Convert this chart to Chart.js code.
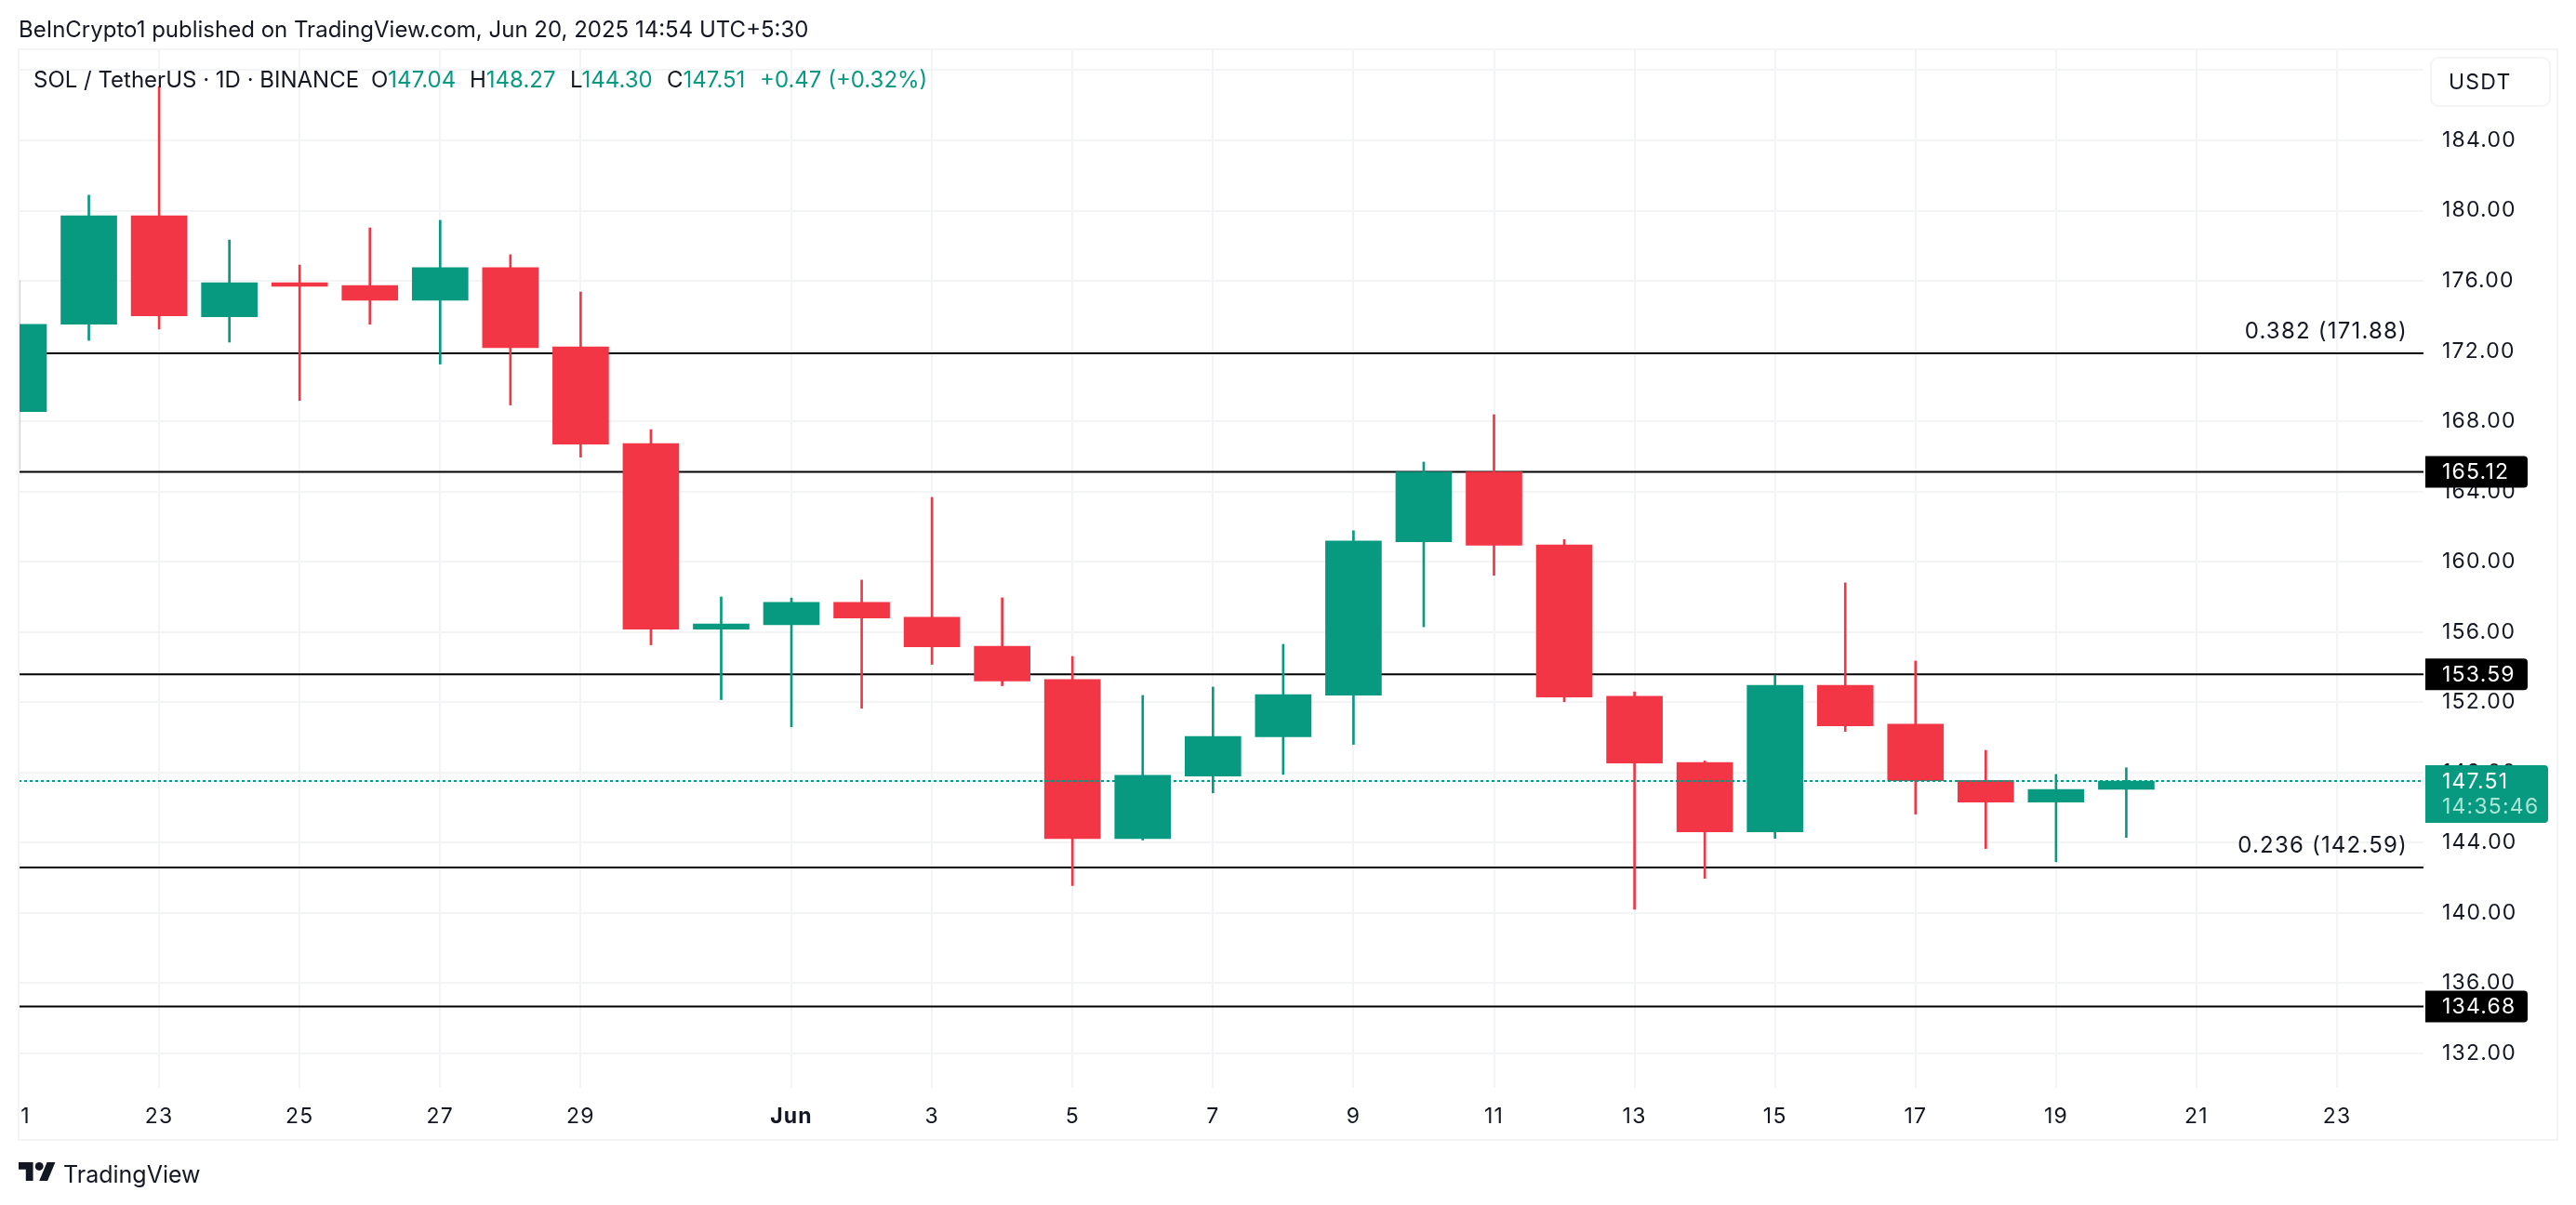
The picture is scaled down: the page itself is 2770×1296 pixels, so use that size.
<!DOCTYPE html>
<html>
<head>
<meta charset="utf-8">
<title>SOL / TetherUS</title>
<script src="https://cdn.jsdelivr.net/npm/chart.js@4"></script>
<style>
    body { margin: 0; background: #fff; font-family: Inter, sans-serif; color: #131722; }
    #wrap { position: relative; width: 2770px; height: 1296px; overflow: hidden; }
    canvas { position: absolute; left: 0; top: 0; }
    .txt { position: absolute; white-space: pre; line-height: 30px; font-size: 24px; }
    .up { color: #089981; }
</style>
</head>
<body>
<div id="wrap">
    <canvas id="chart" width="2770" height="1296"></canvas>
    <div class="txt" style="left:20px;top:17px;">BeInCrypto1 published on TradingView.com, Jun 20, 2025 14:54 UTC+5:30</div>
    <div class="txt" style="left:36px;top:71px;">SOL / TetherUS · 1D · BINANCE</div>
    <div class="txt" style="left:399px;top:71px;">O<span class="up">147.04</span></div>
    <div class="txt" style="left:505px;top:71px;">H<span class="up">148.27</span></div>
    <div class="txt" style="left:613px;top:71px;">L<span class="up">144.30</span></div>
    <div class="txt" style="left:717px;top:71px;">C<span class="up">147.51</span></div>
    <div class="txt up" style="left:817px;top:71px;">+0.47 (+0.32%)</div>
    <svg style="position:absolute;left:20px;top:1250px;" width="40" height="20" viewBox="0 7 36 18" preserveAspectRatio="none">
        <path fill="#131722" d="M14 25H7V14H0V7h14v18zM28 25h-8l7.5-18h8L28 25z"/>
        <circle fill="#131722" cx="20" cy="11" r="4"/>
    </svg>
    <div class="txt" style="left:68px;top:1248px;font-size:25px;">TradingView</div>
</div>
<script>
// one candle per day, May 21 to Jun 20
const days = ["May 21","May 22","May 23","May 24","May 25","May 26","May 27","May 28","May 29","May 30","May 31",
    "Jun 1","Jun 2","Jun 3","Jun 4","Jun 5","Jun 6","Jun 7","Jun 8","Jun 9","Jun 10",
    "Jun 11","Jun 12","Jun 13","Jun 14","Jun 15","Jun 16","Jun 17","Jun 18","Jun 19","Jun 20"];
const opens = [168.56,173.53,179.71,173.96,175.90,175.74,174.89,176.75,172.24,166.73,156.16,
    156.41,157.69,156.84,155.19,153.29,144.24,147.80,150.03,152.40,161.14,
    165.12,160.96,152.34,148.57,144.62,152.97,150.75,147.55,146.31,147.04];
const closes = [173.52,179.71,174.01,175.90,175.69,174.89,176.75,172.19,166.70,156.16,156.46,
    157.69,156.80,155.16,153.21,144.24,147.84,150.05,152.44,161.18,165.12,
    160.94,152.30,148.54,144.62,152.97,150.66,147.53,146.31,147.04,147.51];
const highs = [176.02,180.88,187.05,178.33,176.90,179.02,179.45,177.49,175.37,167.53,158.00,
    157.94,158.96,163.67,157.95,154.61,152.39,152.87,155.30,161.77,165.68,
    168.38,161.27,152.59,148.66,153.55,158.80,154.35,149.26,147.89,148.27];
const lows = [165.30,172.61,173.25,172.51,169.19,173.53,171.26,168.93,165.96,155.27,152.15,
    150.60,151.66,154.16,152.94,141.56,144.15,146.84,147.89,149.60,156.30,
    159.23,152.03,140.21,141.97,144.25,150.34,145.63,143.67,142.92,144.30];

const priceTicks = [132,136,140,144,148,152,156,160,164,168,172,176,180,184,188];
const dayTicks = [0.1,2,4,6,8,11,13,15,17,19,21,23,25,27,29,31,33];
const dayTickLabels = ["1","23","25","27","29","Jun","3","5","7","9","11","13","15","17","19","21","23"];

const fibLevels = [171.88,142.59];
const fibLabels = ["0.382 (171.88)","0.236 (142.59)"];
const tagLevels = [165.12,153.59,134.68];
const lastPrice = 147.51;
const countdown = "14:35:46";

const GREEN = "#089981";
const RED = "#F23645";
const GRID = "#f3f4f6";
const INK = "#131722";
const FONT = "Inter, sans-serif";
const X_MAX = 34.23;

function candleColor(i){
    return closes[i] >= opens[i] ? GREEN : RED;
}

function levelLine(value, extra){
    return Object.assign({
        type: "line",
        data: [{x: 0, y: value}, {x: X_MAX, y: value}],
        borderColor: "#000",
        borderWidth: 2,
        pointRadius: 0,
        order: 5
    }, extra);
}

// price tags, fib captions, currency badge and the pane frame
const overlay = {
    id: "overlay",
    beforeDraw(chart){
        chart.ctx.letterSpacing = "1.2px";
    },
    afterDraw(chart){
        const c = chart.ctx;
        const y = chart.scales.y;
        const area = chart.chartArea;

        c.save();
        c.textBaseline = "middle";
        c.font = "24px " + FONT;

        c.fillStyle = INK;
        c.textAlign = "right";
        fibLevels.forEach((v, i) => c.fillText(fibLabels[i], 2589, y.getPixelForValue(v) - 23));
        c.textAlign = "left";
        c.font = "23px " + FONT;

        tagLevels.forEach(v => {
            const py = y.getPixelForValue(v);
            c.fillStyle = "#000";
            c.beginPath();
            c.roundRect(area.right + 2, py - 17, 110, 34, [0, 4, 4, 0]);
            c.fill();
            c.fillStyle = "#fff";
            c.fillText(v.toFixed(2), 2626, py + 1);
        });

        const py = y.getPixelForValue(lastPrice);
        c.fillStyle = GREEN;
        c.beginPath();
        c.roundRect(area.right + 2, py - 17, 132, 62, [0, 4, 4, 0]);
        c.fill();
        c.fillStyle = "#fff";
        c.fillText(lastPrice.toFixed(2), 2626, py + 1);
        c.fillStyle = "#a8e6d6";
        c.fillText(countdown, 2626, py + 28);

        c.fillStyle = "#fff";
        c.strokeStyle = "#f3f4f6";
        c.lineWidth = 2;
        c.beginPath();
        c.roundRect(2614, 62, 128, 52, 8);
        c.fill();
        c.stroke();
        c.fillStyle = INK;
        c.fillText("USDT", 2633, 89);

        c.strokeStyle = GRID;
        c.strokeRect(20, 53, 2730, 1173);
        c.restore();
    }
};

const sol = new Chart(document.getElementById("chart"), {
    type: "bar",
    data: {
        datasets: [
            {
                label: "Body",
                data: days.map((d, i) => ({x: i, y: [opens[i], closes[i]]})),
                backgroundColor: days.map((d, i) => candleColor(i)),
                barThickness: 60,
                grouped: false,
                order: 2
            },
            {
                label: "Wick",
                data: days.map((d, i) => ({x: i, y: [lows[i], highs[i]]})),
                backgroundColor: days.map((d, i) => candleColor(i)),
                barThickness: 2,
                grouped: false,
                order: 3
            },
            ...fibLevels.concat(tagLevels).map(v => levelLine(v)),
            levelLine(lastPrice, {borderColor: GREEN, borderDash: [3, 3], order: 1})
        ]
    },
    options: {
        responsive: false,
        animation: false,
        devicePixelRatio: 1,
        layout: { padding: { left: 20, top: 53, right: 20, bottom: 70 } },
        plugins: { legend: { display: false }, tooltip: { enabled: false } },
        scales: {
            x: {
                type: "linear",
                min: 0,
                max: X_MAX,
                offset: false,
                border: { display: false },
                afterBuildTicks(s){ s.ticks = dayTicks.map(value => ({value})); },
                afterFit(s){ s.height = 56; },
                grid: {
                    offset: false,
                    color: ctx => ctx.index === 0 ? "transparent" : GRID,
                    lineWidth: 2,
                    drawTicks: false
                },
                ticks: {
                    autoSkip: false,
                    maxRotation: 0,
                    padding: 17,
                    color: INK,
                    font: ctx => ({ family: FONT, size: 23, weight: ctx.index === 5 ? "bold" : "normal" }),
                    callback: (v, i) => dayTickLabels[i]
                }
            },
            y: {
                position: "right",
                min: 130.04,
                max: 189.19,
                border: { display: false },
                afterBuildTicks(s){ s.ticks = priceTicks.map(value => ({value})); },
                afterFit(s){ s.width = 144; },
                grid: { color: GRID, lineWidth: 2, drawTicks: false },
                ticks: {
                    padding: 20,
                    color: INK,
                    font: { family: FONT, size: 23 },
                    callback: v => v.toFixed(2)
                }
            }
        }
    },
    plugins: [overlay]
});
</script>
</body>
</html>
